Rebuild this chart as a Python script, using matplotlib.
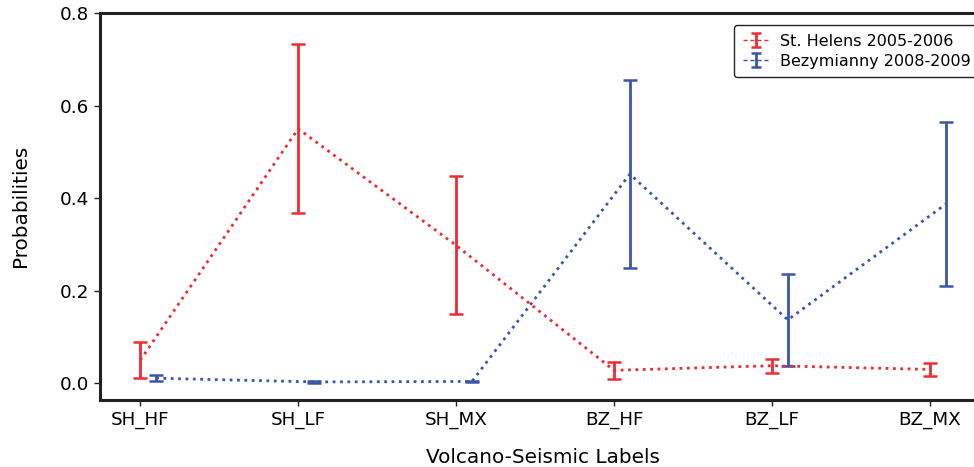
import matplotlib
matplotlib.use("Agg")
import matplotlib.pyplot as plt
from matplotlib.lines import Line2D
from matplotlib.container import ErrorbarContainer
from matplotlib.legend_handler import HandlerErrorbar
import numpy as np

plt.rcParams["font.family"] = ["DejaVu Sans"]

categories = ["SH_HF", "SH_LF", "SH_MX", "BZ_HF", "BZ_LF", "BZ_MX"]
sth_mean = [0.050, 0.550, 0.298, 0.028, 0.038, 0.030]
sth_err = [0.039, 0.183, 0.149, 0.018, 0.015, 0.014]
bez_mean = [0.011, 0.003, 0.004, 0.452, 0.137, 0.387]
bez_err = [0.007, 0.002, 0.002, 0.203, 0.100, 0.177]
series_names = ["St. Helens 2005-2006", "Bezymianny 2008-2009"]

red = "#ee2a33"
blue = "#3a56a8"

fig = plt.figure(figsize=(9.74, 4.67), dpi=100)
ax = fig.add_axes([100/974, (467-399.5)/467, (986-100)/974, (399.5-13)/467])

x = np.arange(len(categories))
ax.errorbar(x, sth_mean, yerr=sth_err, color=red, ls=":", lw=2,
            elinewidth=2, capsize=5, capthick=1.8, label=series_names[0])
ax.errorbar(x + 0.1, bez_mean, yerr=bez_err, color=blue, ls=":", lw=2,
            elinewidth=2, capsize=5, capthick=1.8, label=series_names[1])

ax.set_xticks(x)
ax.set_xticklabels(categories)
ax.set_xlim(-0.255, 5.355)
ax.set_ylim(-0.035, 0.8)
ax.set_yticks([0.0, 0.2, 0.4, 0.6, 0.8])
ax.set_yticklabels(["0.0", "0.2", "0.4", "0.6", "0.8"])

for s in ax.spines.values():
    s.set_linewidth(2.2)
    s.set_color("#222222")
ax.tick_params(labelsize=13.2, length=4, width=1, colors="#222222", labelcolor="black", pad=4)

ax.set_xlabel("Volcano-Seismic Labels", fontsize=14.4, labelpad=14)
ax.set_ylabel("Probabilities", fontsize=14.4, labelpad=21)

leg = ax.legend(loc="upper left", bbox_to_anchor=(734/974, (467-25)/467),
                bbox_transform=fig.transFigure, borderaxespad=0, fontsize=11.5,
                handlelength=1.7, borderpad=0.55, labelspacing=0.3,
                handletextpad=0.65, framealpha=1, fancybox=True,
                handler_map={ErrorbarContainer: HandlerErrorbar(yerr_size=0.42)})
leg.get_frame().set_edgecolor("#222222")
for ln in leg.findobj(Line2D):
    if ln.get_linestyle() not in ("None", "", " "):
        ln.set_linewidth(1.0)
        ln.set_dashes([3, 2])
    if ln.get_marker() in ("_",):
        ln.set_markersize(7)
        ln.set_markeredgewidth(1.8)

fig.savefig("out.png", dpi=100)
